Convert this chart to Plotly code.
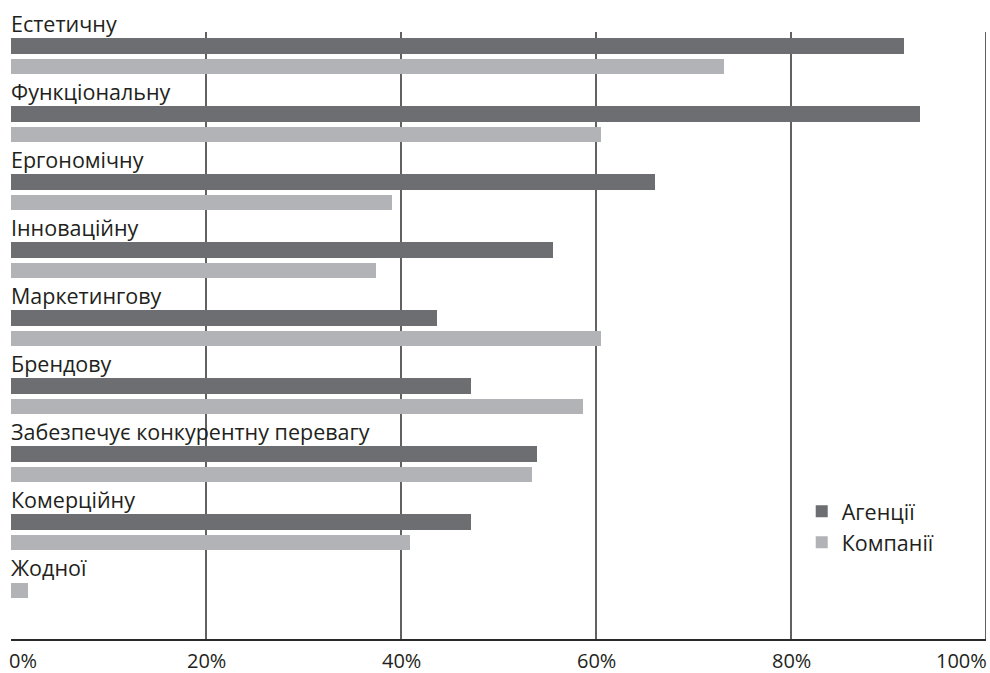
import plotly.graph_objects as go

categories = [
    "Естетичну",
    "Функціональну",
    "Ергономічну",
    "Інноваційну",
    "Маркетингову",
    "Брендову",
    "Забезпечує конкурентну перевагу",
    "Комерційну",
    "Жодної",
]
agencies = [91.6, 93.2, 66.1, 55.6, 43.7, 47.2, 53.9, 47.2, 0]
companies = [73.1, 60.5, 39.1, 37.4, 60.5, 58.7, 53.4, 40.9, 1.7]
series_names = ["Агенції", "Компанії"]
series_colors = ["#6d6e71", "#b1b3b6"]
x_ticks = [0, 20, 40, 60, 80, 100]
x_tick_text = ["0%", "20%", "40%", "60%", "80%", "100%"]

# vertical layout in pixels (y axis runs top to bottom in px)
PLOT_H = 639
ROW = 68          # height of one category block
FIRST_BAR = 38    # top of the first bar
BAR_H = 16
BAR_GAP = 20      # offset from first to second bar of a block
LABEL_OFF = 15    # label centre above the first bar's top
GRID_TOP = 32

FONT = "Open Sans"
LABEL_SIZE = 21.5
TICK_SIZE = 20
TEXT_COLOR = "#231f20"

fig = go.Figure()

a_y, c_y = [], []
for i, (a, c) in enumerate(zip(agencies, companies)):
    top = FIRST_BAR + ROW * i
    a_y.append(top + BAR_H / 2)
    # a block without a dark bar starts straight with the light one
    c_y.append(top + (BAR_GAP if a else 0) + BAR_H / 2)

fig.add_trace(go.Bar(
    x=agencies, y=a_y, orientation="h", width=BAR_H,
    marker=dict(color=series_colors[0], line=dict(width=0)),
    name=series_names[0], hoverinfo="x",
))
fig.add_trace(go.Bar(
    x=companies, y=c_y, orientation="h", width=BAR_H - 1,
    marker=dict(color=series_colors[1], line=dict(width=0)),
    name=series_names[1], hoverinfo="x",
))

# category labels above each block
for i, cat in enumerate(categories):
    fig.add_annotation(
        x=0, y=FIRST_BAR + ROW * i - LABEL_OFF, xref="x", yref="y",
        text=cat, showarrow=False, xanchor="left", yanchor="middle",
        xshift=-2,
        font=dict(family=FONT, size=LABEL_SIZE, color=TEXT_COLOR),
    )

# vertical grid lines
for t in x_ticks[1:]:
    fig.add_shape(
        type="line", x0=t, x1=t, y0=GRID_TOP, y1=PLOT_H,
        xref="x", yref="y", layer="below",
        line=dict(color="#3a3a3a", width=1.6),
    )

# percentage labels under the axis
for t, lab in zip(x_ticks, x_tick_text):
    anchor = "left" if t == x_ticks[0] else ("right" if t == x_ticks[-1] else "center")
    fig.add_annotation(
        x=t, y=0, xref="x", yref="paper", text=lab, showarrow=False,
        xanchor=anchor, yanchor="top", yshift=-6,
        xshift=-4 if anchor == "left" else (3 if anchor == "right" else 0),
        font=dict(family=FONT, size=TICK_SIZE, color=TEXT_COLOR),
    )

fig.update_layout(
    width=990, height=673,
    margin=dict(l=11, r=4, t=0, b=34),
    plot_bgcolor="white", paper_bgcolor="white",
    barmode="overlay", bargap=0,
    showlegend=True,
    legend=dict(
        x=0.811, y=0.232, xanchor="left", yanchor="top",
        font=dict(family=FONT, size=LABEL_SIZE, color=TEXT_COLOR),
        bgcolor="rgba(0,0,0,0)", tracegroupgap=0, itemwidth=30,
    ),
    xaxis=dict(
        range=[0, 100], showgrid=False, zeroline=False,
        tickvals=x_ticks, showticklabels=False, ticks="",
        showline=True, linecolor="#2a2a2a", linewidth=1.6,
        fixedrange=True,
    ),
    yaxis=dict(
        range=[PLOT_H, 0], showgrid=False, zeroline=False,
        showticklabels=False, ticks="", showline=False, fixedrange=True,
    ),
)

fig.write_html("out.html")
